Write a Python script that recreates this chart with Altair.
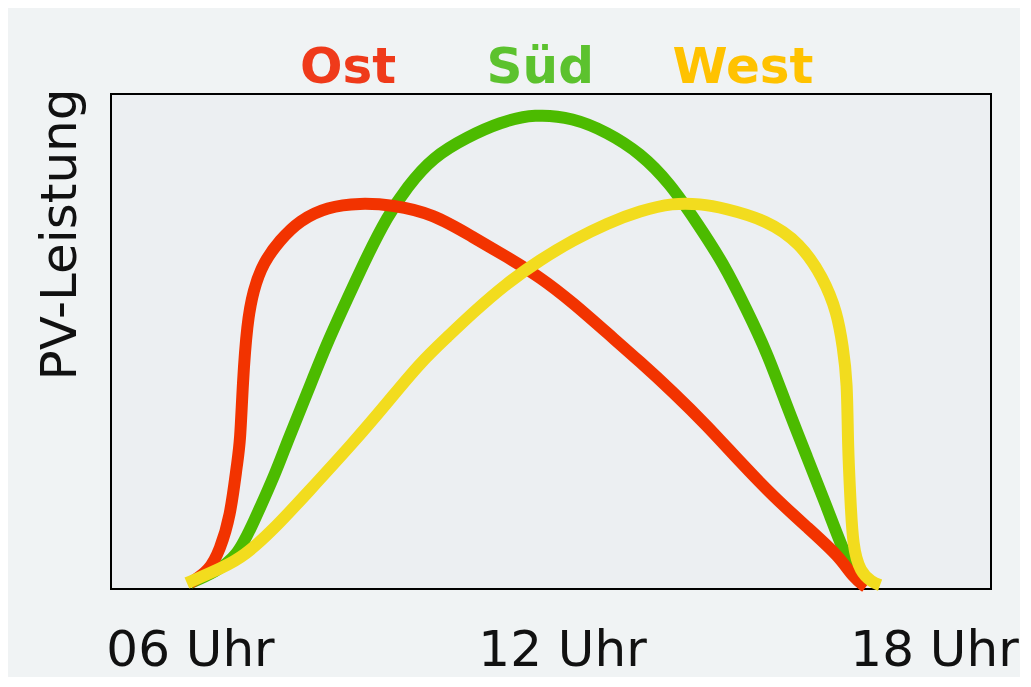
import altair as alt
import pandas as pd

# ---------------- data ----------------
series_names = ["Ost", "Süd", "West"]

ost_hours = [6.00, 6.32, 6.48, 6.65, 6.76, 6.81, 6.85, 6.92, 7.02, 7.18, 7.45, 7.77, 8.21, 8.74,
             9.27, 9.92, 10.56, 11.11, 11.65, 12.18, 12.73, 13.26, 13.79, 14.34, 14.87, 15.40,
             15.95, 16.48, 16.69, 16.90]
ost_values = [1.2, 3.8, 7.9, 14.5, 25.5, 29.5, 41.6, 53.7, 60.4, 65.9, 70.5, 74.5, 77.2, 78.0,
              77.6, 75.8, 71.1, 67.1, 63.0, 57.8, 51.7, 45.9, 39.8, 33.0, 25.7, 18.8,
              12.5, 6.5, 2.4, 0.4]

sued_hours = [6.00, 6.40, 6.76, 7.02, 7.40, 7.56, 7.89, 8.21, 8.53, 8.85, 9.18, 9.50, 9.92,
              10.47, 11.00, 11.56, 12.18, 12.73, 13.26, 13.74, 14.18, 14.60, 14.98, 15.31,
              15.63, 15.95, 16.27, 16.53, 16.73]
sued_values = [1.2, 3.4, 6.5, 13.3, 24.0, 29.5, 39.6, 49.7, 58.4, 67.1, 75.2, 81.2, 87.3,
               91.3, 94.3, 96.0, 95.2, 92.3, 88.1, 82.0, 73.9, 65.9, 56.4, 47.7,
               36.8, 26.7, 16.6, 7.9, 2.8]

west_hours = [5.95, 6.32, 6.81, 7.34, 7.89, 8.63, 9.18, 9.71, 10.15, 10.56, 11.11, 11.65, 12.18,
              12.73, 13.26, 13.79, 14.23, 14.60, 15.31, 15.84, 16.21, 16.44, 16.53, 16.60, 16.61,
              16.65, 16.69, 16.81, 17.00, 17.13]
west_values = [1.2, 3.2, 5.9, 11.9, 19.4, 29.5, 37.6, 45.7, 50.9, 55.8, 61.8, 66.5, 70.5,
               73.9, 76.4, 78.0, 77.8, 77.0, 74.5, 69.9, 63.0, 55.8, 48.9, 42.2, 28.7,
               18.6, 8.5, 3.4, 1.4, 0.8]

tick_values = [6, 12, 18]
tick_labels = ["06 Uhr", "12 Uhr", "18 Uhr"]
y_title = "PV-Leistung"

# ---------------- styles / layout ----------------
line_colors = {"Ost": "#f23300", "Süd": "#4cbb00", "West": "#f2dc1e"}
label_colors = {"Ost": "#ef3a1a", "Süd": "#5cc22e", "West": "#ffc200"}
label_x_hours = {"Ost": 8.55, "Süd": 11.65, "West": 14.92}   # where the coloured names sit
label_y_value = 102.2
draw_sequence = ["Süd", "Ost", "West"]   # back to front

series_data = {"Ost": (ost_hours, ost_values),
               "Süd": (sued_hours, sued_values),
               "West": (west_hours, west_values)}

rows = []
for name in draw_sequence:
    hs, vs = series_data[name]
    for h, v in zip(hs, vs):
        rows.append({"series": name, "hour": h, "value": v})
df = pd.DataFrame(rows)

label_expr = " : ".join(
    [f"datum.value == {v} ? '{t}'" for v, t in zip(tick_values, tick_labels)] + ["''"]
)

x_scale = alt.Scale(domain=[4.726, 18.919], nice=False, zero=False)
y_scale = alt.Scale(domain=[0, 100], nice=False)

lines = alt.Chart(df).mark_line(
    strokeWidth=12, interpolate="basis", strokeCap="butt", strokeJoin="round"
).encode(
    x=alt.X("hour:Q", scale=x_scale,
            axis=alt.Axis(values=tick_values, labelExpr=label_expr, title=None,
                          domain=False, ticks=False, tickSize=0, grid=False,
                          labelFont="DejaVu Sans", labelFontSize=50, labelColor="#111111",
                          labelBaseline="alphabetic", labelPadding=76,
                          labelFlush=False, labelOverlap=False)),
    y=alt.Y("value:Q", scale=y_scale,
            axis=alt.Axis(title=y_title, labels=False, ticks=False, domain=False,
                          grid=False, titleFont="DejaVu Sans", titleFontSize=50,
                          titleFontWeight="normal", titleColor="#111111",
                          titleAngle=270, titleAlign="right", titleBaseline="alphabetic",
                          titleX=-36, titleY=-6)),
    color=alt.Color("series:N",
                    scale=alt.Scale(domain=draw_sequence,
                                    range=[line_colors[s] for s in draw_sequence]),
                    legend=None),
)

name_layers = []
for name in series_names:
    one = pd.DataFrame({"series": [name], "hour": [label_x_hours[name]],
                        "value": [label_y_value]})
    name_layers.append(
        alt.Chart(one).mark_text(
            font="DejaVu Sans", fontSize=50, fontWeight="bold",
            baseline="alphabetic", align="center", color=label_colors[name]
        ).encode(
            x=alt.X("hour:Q", scale=x_scale),
            y=alt.Y("value:Q", scale=y_scale),
            text="series:N",
        )
    )

chart = alt.layer(lines, *name_layers).properties(
    width=880, height=495,
    background="#f0f3f4",
    padding={"left": 103, "top": 86, "right": 29, "bottom": 88},
    autosize=alt.AutoSizeParams(type="none"),
).configure_view(
    fill="#eceff2", stroke="#000000", strokeWidth=2
)

chart.save("out.html", embed_options={"renderer": "svg", "actions": False})
